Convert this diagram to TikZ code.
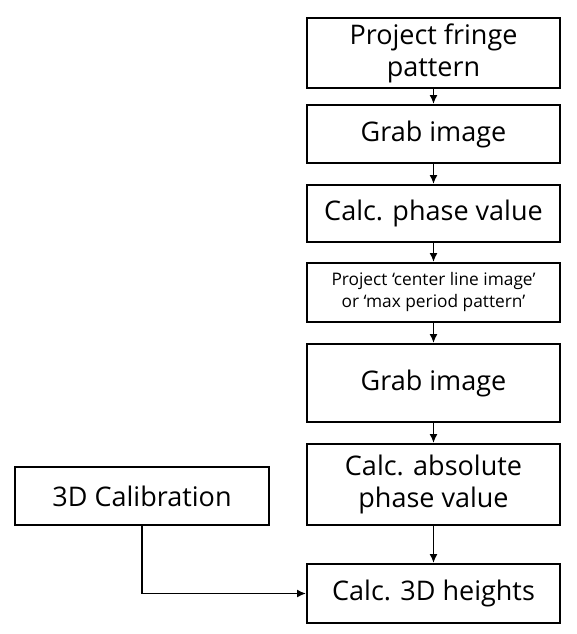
\documentclass[tikz,border=0pt]{standalone}
\usepackage{fontspec}
\setmainfont{Open Sans}
\usepackage{tikz}
\usetikzlibrary{positioning, arrows.meta}

\begin{document}
\begin{tikzpicture}[x=1pt, y=-1pt,
  box/.style={draw, line width=2pt, minimum width=253pt, inner sep=0pt, align=center, font=\fontsize{27}{32}\selectfont},
  smallbox/.style={box, font=\fontsize{17.3}{22}\selectfont},
  flow/.style={line width=1.6pt, -{Latex[length=9pt, width=8pt]}}]

\useasboundingbox (0,0) rectangle (577,634);

% main chain
\node[box, minimum height=70pt] (fringe) at (433.5,53) {Project fringe\\pattern};
\node[box, minimum height=58pt] (grabA) at (433.5,134) {Grab image};
\node[box, minimum height=57pt] (phase) at (433.5,213.5) {Calc. phase value};
\node[smallbox, minimum height=59pt] (center) at (433.5,292.5) {Project `center line image'\\or `max period pattern'};
\node[box, minimum height=78pt] (grabB) at (433.5,383) {Grab image};
\node[box, minimum height=81pt] (absphase) at (433.5,484.5) {Calc. absolute\\phase value};
\node[box, minimum height=59pt] (heights) at (433.5,593.5) {Calc. 3D heights};

% calibration
\node[box, minimum width=254pt, minimum height=58pt] (calib) at (142,496) {3D Calibration};

% connections
\draw[flow] (fringe) -- (grabA);
\draw[flow] (grabA) -- (phase);
\draw[flow] (phase) -- (center);
\draw[flow] (center) -- (grabB);
\draw[flow] (grabB) -- (absphase);
\draw[flow] (absphase) -- (heights);
\draw[flow] (calib.south) |- (heights.west);

\end{tikzpicture}
\end{document}
